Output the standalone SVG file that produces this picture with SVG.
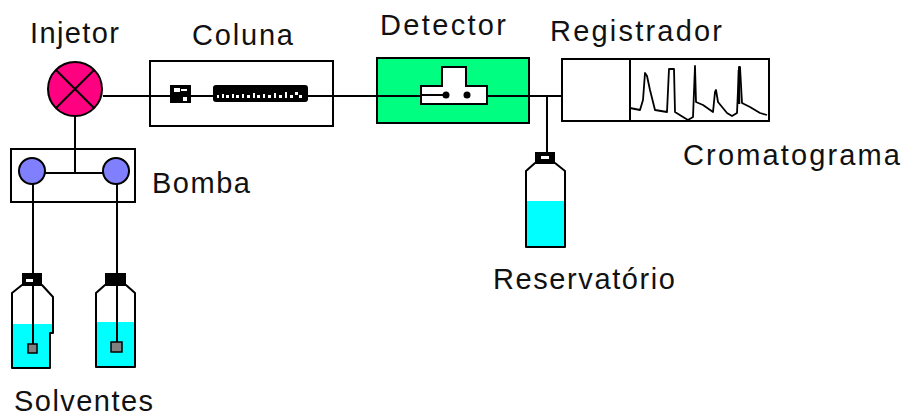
<svg xmlns="http://www.w3.org/2000/svg" width="905" height="418" viewBox="0 0 905 418">
  <style>
    .lbl { font-family: "Liberation Sans", Arial, sans-serif; font-size: 29px; fill: #111; }
    .ln { fill: none; stroke: #000; stroke-width: 2; }
    .box { fill: none; stroke: #000; stroke-width: 2; }
    .body { fill: #fff; }
    .outline { fill: none; stroke: #000; stroke-width: 2; stroke-linejoin: round; }
    .liquid { fill: #00ffff; }
    .cap { fill: #000; }
    .frit { fill: #808080; stroke: #000; stroke-width: 1.5; }
  </style>
  <rect width="905" height="418" fill="#fff"/>

  <!-- tubing -->
  <g id="connectors" class="ln">
    <line x1="103" y1="96" x2="562" y2="96"/>
    <line x1="75" y1="115" x2="75" y2="172"/>
    <line x1="45" y1="173" x2="103" y2="173"/>
    <line x1="33" y1="184" x2="33" y2="273"/>
    <line x1="117" y1="184" x2="117" y2="273"/>
    <line x1="547" y1="96" x2="547" y2="152"/>
  </g>

  <g id="injetor">
    <circle cx="75" cy="89" r="27" fill="#ff0080" stroke="#000" stroke-width="2"/>
    <line class="ln" x1="56" y1="70" x2="94" y2="108"/>
    <line class="ln" x1="94" y1="70" x2="56" y2="108"/>
    <text class="lbl" x="30" y="43" textLength="89">Injetor</text>
  </g>

  <g id="coluna">
    <rect class="box" x="150" y="61" width="183" height="65"/>
    <line class="ln" x1="150" y1="96" x2="333" y2="96"/>
    <!-- inlet filter -->
    <rect x="170" y="85" width="21" height="18" fill="#000"/>
    <rect x="174" y="88" width="6" height="4" fill="#fff"/>
    <rect x="181" y="89" width="6" height="2" fill="#fff"/>
    <rect x="183" y="97" width="4" height="4" fill="#fff"/>
    <!-- packed bed -->
    <rect x="213" y="85" width="95" height="17" rx="3" fill="#000"/>
    <g fill="#fff">
      <rect x="217" y="95" width="2" height="3"/><rect x="222" y="94" width="2" height="4"/>
      <rect x="226" y="95" width="3" height="3"/><rect x="232" y="94" width="2" height="4"/>
      <rect x="236" y="95" width="3" height="3"/><rect x="242" y="94" width="2" height="4"/>
      <rect x="247" y="95" width="3" height="3"/><rect x="253" y="93" width="2" height="5"/>
      <rect x="257" y="95" width="3" height="3"/><rect x="263" y="94" width="2" height="4"/>
      <rect x="268" y="95" width="3" height="3"/><rect x="274" y="93" width="2" height="5"/>
      <rect x="279" y="95" width="3" height="3"/><rect x="285" y="92" width="2" height="6"/>
      <rect x="290" y="95" width="3" height="3"/><rect x="295" y="92" width="3" height="3"/>
      <rect x="299" y="95" width="3" height="3"/>
    </g>
    <text class="lbl" x="192" y="45" textLength="101">Coluna</text>
  </g>

  <g id="detector">
    <rect x="377" y="58" width="152" height="65" fill="#00ff80" stroke="#000" stroke-width="2"/>
    <line class="ln" x1="377" y1="96" x2="529" y2="96"/>
    <path d="M421,86 H442 V67 H466 V86 H487 V104 H421 Z" fill="#fff" stroke="#000" stroke-width="2"/>
    <line class="ln" x1="421" y1="95" x2="446" y2="95"/>
    <circle cx="446" cy="95" r="3.5" fill="#000"/>
    <circle cx="467" cy="95" r="3.5" fill="#000"/>
    <text class="lbl" x="380" y="35" textLength="126">Detector</text>
  </g>

  <g id="registrador">
    <rect class="box" x="562" y="59" width="207" height="62"/>
    <line class="ln" x1="630" y1="59" x2="630" y2="121"/>
    <polyline fill="none" stroke="#000" stroke-width="1.8" stroke-linejoin="round"
      points="630,108 640,110 643,100 645,73 647,76 650,90 655,110 667,112 669,69 674,69 675,112 683,117 688,120 693,117 695,66 696,102 703,105 713,112 715,92 716,90 718,102 727,113 732,116 737,113 739,67 740,67 742,103 750,107 760,113 767,115"/>
    <line x1="739" y1="70" x2="739" y2="104" stroke="#000" stroke-width="2.5"/>
    <text class="lbl" x="550" y="41" textLength="172">Registrador</text>
    <text class="lbl" x="683" y="165" textLength="217">Cromatograma</text>
  </g>

  <g id="reservatorio">
    <path class="body" d="M535,163 L526,171 V247 H565 V171 L555,163 Z"/>
    <rect class="liquid" x="526" y="201" width="39" height="46"/>
    <path class="outline" d="M535,163 L526,171 V247 H565 V171 L555,163 Z"/>
    <rect class="cap" x="535" y="152" width="20" height="12"/>
    <rect x="541" y="156" width="8" height="3" fill="#fff"/>
    <text class="lbl" x="493" y="289" textLength="182">Reservatório</text>
  </g>

  <g id="bomba">
    <rect class="box" x="11" y="149" width="124" height="53"/>
    <circle cx="32" cy="171" r="13" fill="#8080ff" stroke="#000" stroke-width="2"/>
    <circle cx="116" cy="171" r="13" fill="#8080ff" stroke="#000" stroke-width="2"/>
    <text class="lbl" x="152" y="193" textLength="98">Bomba</text>
  </g>

  <g id="solventes">
    <!-- left bottle -->
    <path class="body" d="M22,285 L12,293 V368 H50 V333 H53 V297 L42,285 Z"/>
    <path class="liquid" d="M12,324 H53 V333 H50 V368 H12 Z"/>
    <path class="outline" d="M22,285 L12,293 V368 H50 V333 H53 V297 L42,285 Z"/>
    <rect class="cap" x="22" y="273" width="20" height="12"/>
    <rect x="26" y="279" width="7" height="3" fill="#fff"/>
    <line class="ln" x1="33" y1="285" x2="33" y2="344"/>
    <rect class="frit" x="28" y="344" width="9" height="9"/>
    <!-- right bottle -->
    <path class="body" d="M105,285 L96,293 V367 H135 V293 L126,285 Z"/>
    <rect class="liquid" x="96" y="322" width="39" height="45"/>
    <path class="outline" d="M105,285 L96,293 V367 H135 V293 L126,285 Z"/>
    <rect class="cap" x="105" y="273" width="21" height="12"/>
    <line class="ln" x1="117" y1="285" x2="117" y2="342"/>
    <rect class="frit" x="111" y="342" width="11" height="10"/>
    <text class="lbl" x="14" y="411" textLength="139">Solventes</text>
  </g>
</svg>
